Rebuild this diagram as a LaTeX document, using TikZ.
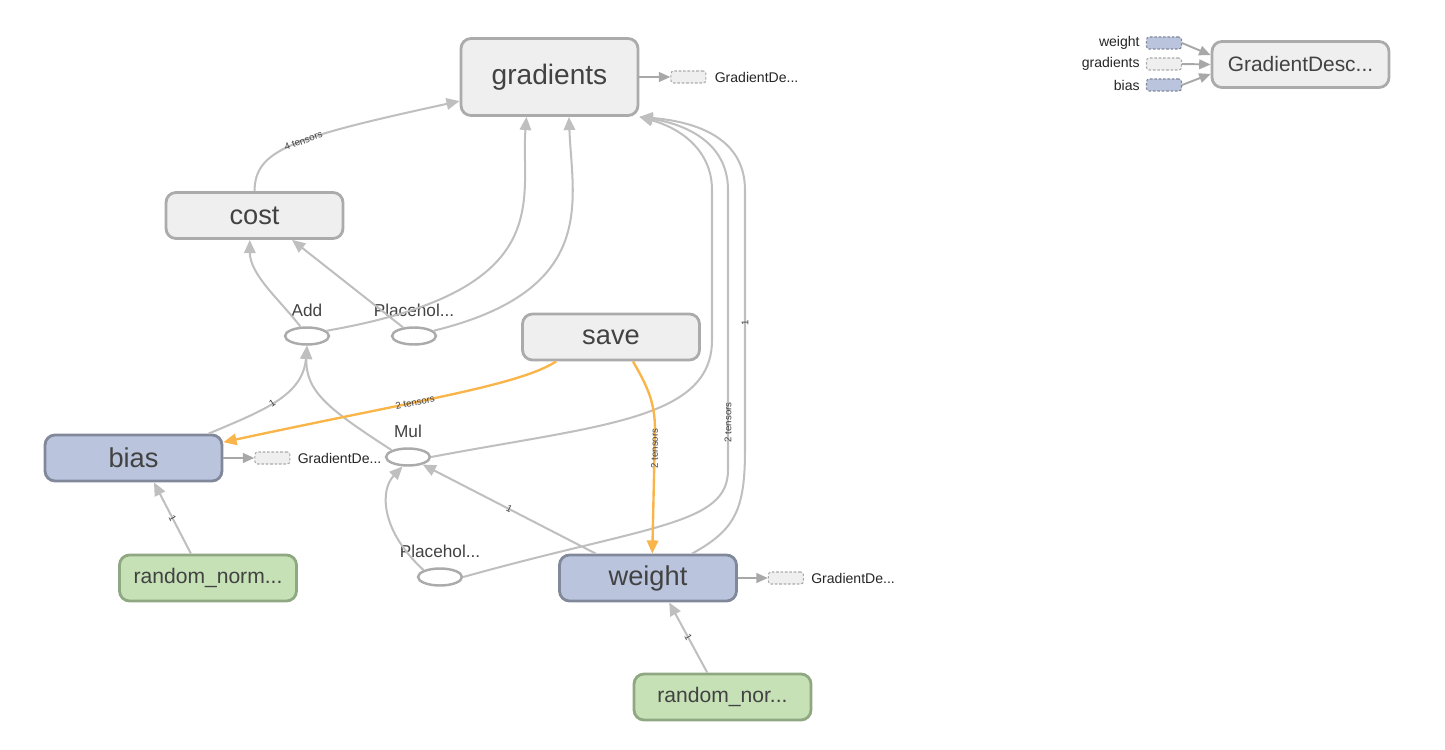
\documentclass[tikz,border=0pt]{standalone}
\usepackage{fontspec}
\setmainfont{Liberation Sans}
\usepackage{xcolor}
\usepackage{tikz}
\definecolor{opfill}{HTML}{EFEFEF}
\definecolor{opdraw}{HTML}{ABABAB}
\definecolor{varfill}{HTML}{BAC5DD}
\definecolor{vardraw}{HTML}{80889A}
\definecolor{rndfill}{HTML}{C6E1B6}
\definecolor{rnddraw}{HTML}{8FA882}
\definecolor{edgegray}{HTML}{BFBFBF}
\definecolor{stubedge}{HTML}{A8A8A8}
\definecolor{refedge}{HTML}{F9B54A}
\definecolor{labeltext}{HTML}{424242}
\usetikzlibrary{arrows.meta, positioning, shapes.geometric}

\begin{document}
\begin{tikzpicture}[
    x=0.02cm, y=-0.02cm,
    group/.style={draw=opdraw, fill=opfill, line width=1.6pt, rounded corners=0.2cm, minimum width=3.54cm, minimum height=0.92cm, text=labeltext, font=\fontsize{15.5}{18}\selectfont},
    var/.style={group, draw=vardraw, fill=varfill},
    rnd/.style={group, draw=rnddraw, fill=rndfill, font=\fontsize{12}{14}\selectfont},
    op/.style={draw=opdraw, fill=white, ellipse, line width=1.4pt, minimum width=0.88cm, minimum height=0.34cm, inner sep=0pt},
    opname/.style={font=\fontsize{9.8}{12}\selectfont, text=labeltext, inner sep=1pt},
    stub/.style={draw=opdraw, fill=opfill, dash pattern=on 1.5pt off 1pt, line width=0.6pt, rounded corners=1.5pt, minimum width=0.7cm, minimum height=0.24cm, inner sep=0pt},
    stubname/.style={font=\fontsize{8}{10}\selectfont, text=black!85, inner sep=0pt},
    edge/.style={->, draw=edgegray, line width=1.15pt, >={Triangle[length=7.5pt,width=6.5pt]}},
    refline/.style={edge, draw=refedge, line width=1.35pt},
    outline/.style={edge, draw=stubedge, line width=1.1pt, >={Triangle[length=6.5pt,width=5.5pt]}},
    elabel/.style={font=\fontsize{5.5}{6}\selectfont, text=labeltext, inner sep=0.5pt}
]
    \useasboundingbox (0,0) rectangle (1445,750);

    % Gradients
    \node[group, minimum height=1.54cm, font=\fontsize{16}{18}\selectfont] (gradients) at (549.5,77) {gradients};
    \node[stub, right=0.62cm of gradients] (gstub) {};
    \node[stubname, right=0.16cm of gstub] (gstubname) {GradientDe...};

    % Cost and save
    \node[group] (cost) at (254.5,215.5) {cost};
    \node[group] (save) at (611,337) {save};

    % Ops
    \node[op] (add) at (307,336) {};
    \node[opname, above=0.15cm of add] (addname) {Add};
    \node[op] (ph1) at (414,336) {};
    \node[opname, above=0.15cm of ph1] (ph1name) {Placehol...};
    \node[op] (mul) at (408,457) {};
    \node[opname, above=0.15cm of mul] (mulname) {Mul};
    \node[op] (ph2) at (440,577) {};
    \node[opname, above=0.15cm of ph2] (ph2name) {Placehol...};

    % Variables
    \node[var] (bias) at (133.5,458) {bias};
    \node[stub, right=0.62cm of bias] (bstub) {};
    \node[stubname, right=0.14cm of bstub] (bstubname) {GradientDe...};
    \node[var] (weight) at (648,578) {weight};
    \node[stub, right=0.6cm of weight] (wstub) {};
    \node[stubname, right=0.14cm of wstub] (wstubname) {GradientDe...};

    % Initialisers
    \node[rnd] (rn1) at (208,578) {random\_norm...};
    \node[rnd] (rn2) at (722.5,697) {random\_nor...};

    % Optimizer
    \node[group, font=\fontsize{11.9}{14}\selectfont] (descent) at (1300.5,64.5) {GradientDesc...};
    \node[stub, fill=varfill, draw=vardraw] (in1) at (1164,43) {};
    \node[stub] (in2) at (1164,64) {};
    \node[stub, fill=varfill, draw=vardraw] (in3) at (1164,85) {};
    \node[stubname, left=0.12cm of in1] (in1name) {weight};
    \node[stubname, left=0.12cm of in2] (in2name) {gradients};
    \node[stubname, left=0.12cm of in3] (in3name) {bias};

    % Outputs
    \draw[outline] (gradients.east |- gstub) -- (gstub.west);
    \draw[outline] (bias.east) -- (bstub.west);
    \draw[outline] (weight.east) -- (wstub.west);
    \draw[outline] (in1.east) -- (descent.174);
    \draw[outline] (in2.east) -- (descent.west);
    \draw[outline] (in3.east) -- (descent.186);

    % Into cost
    \draw[edge] (cost.north) .. controls (255,150) and (290,138) .. node[elabel, sloped, pos=0.55] {4 tensors} (gradients.195);
    \draw[edge] (add.125) .. controls (280,300) and (250,275) .. (cost.259);
    \draw[edge] (ph1) -- (cost.-33);

    % Into gradients
    \draw[edge] (add.15) .. controls (560,290) and (520,200) .. (gradients.240);
    \draw[edge] (ph1.15) .. controls (600,290) and (572,200) .. (gradients.-64);
    \draw[edge] (mul.east) .. controls (600,425) and (712,420) .. (712,340) -- (712,190) .. controls (712,150) and (680,128) .. (gradients.south east);
    \draw[edge] (ph2.east) .. controls (650,525) and (728,525) .. (728,470) -- node[elabel, sloped, pos=0.17] {2 tensors} (728,190) .. controls (728,145) and (690,125) .. (gradients.south east);
    \draw[edge] (weight.29) .. controls (735,530) and (745,510) .. (745,450) -- node[elabel, sloped, pos=0.49] {1} (745,190) .. controls (745,140) and (700,122) .. (gradients.south east);

    % Into add and mul
    \draw[edge] (bias.18) .. controls (265,410) and (303,395) .. node[elabel, sloped, pos=0.45] {1} (add.south);
    \draw[edge] (mul.north west) .. controls (330,410) and (305,392) .. (add.south);
    \draw[edge] (ph2.north west) .. controls (380,530) and (380,490) .. (mul.-120);
    \draw[edge] (weight.155) -- node[elabel, sloped] {1} (mul);

    % Save
    \draw[refline] (save.204) .. controls (520,385) and (420,400) .. node[elabel, sloped, pos=0.6] {2 tensors} (bias.10);
    \draw[refline] (save.-48) to[out=-60, in=90] (655,430) -- node[elabel, rotate=90, pos=0.15] {2 tensors} (weight.80);

    % Initialisers into variables
    \draw[edge] (rn1.125) -- node[elabel, sloped] {1} (bias.-50);
    \draw[edge] (rn2.122) -- node[elabel, sloped] {1} (weight.-49);
\end{tikzpicture}
\end{document}
